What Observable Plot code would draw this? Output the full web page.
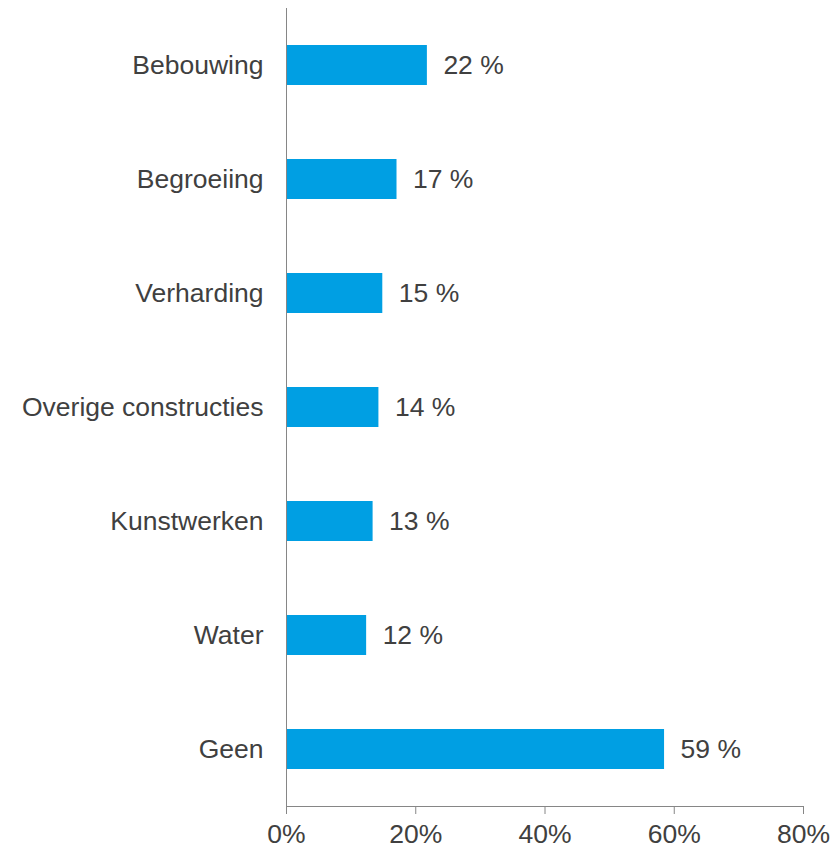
<!DOCTYPE html>
<html>
<head>
<meta charset="utf-8">
<script src="https://cdn.jsdelivr.net/npm/d3@7"></script>
<script src="https://cdn.jsdelivr.net/npm/@observablehq/plot@0.6"></script>
<style>
  html, body { margin: 0; padding: 0; background: #fff; }
  svg { display: block; }
</style>
</head>
<body>
<div id="chart"></div>
<script>
const categories = ["Bebouwing", "Begroeiing", "Verharding", "Overige constructies", "Kunstwerken", "Water", "Geen"];
const values = [21.8, 17.1, 14.9, 14.3, 13.4, 12.4, 58.5];
const valueLabels = ["22 %", "17 %", "15 %", "14 %", "13 %", "12 %", "59 %"];
const xTicks = [0, 20, 40, 60, 80];

const data = categories.map((c, i) => ({category: c, value: values[i], label: valueLabels[i]}));

const textColor = "#404040";
const axisColor = "#868686";
const fs = 26.5;

const chart = Plot.plot({
  width: 836,
  height: 852,
  marginLeft: 286,
  marginRight: 33,
  marginTop: 8,
  marginBottom: 46,
  style: {fontFamily: "'Liberation Sans', Arial, sans-serif", fontSize: fs + "px", color: textColor, background: "#fff"},
  x: {domain: [0, 80], ticks: xTicks},
  y: {domain: categories, paddingInner: 0.65, paddingOuter: 0.32, axis: null},
  marks: [
    Plot.barX(data, {x: "value", y: "category", fill: "#009FE3"}),
    Plot.text(data, {x: "value", y: "category", text: "label", textAnchor: "start", dx: 16, fill: textColor, fontSize: fs}),
    Plot.axisY({tickSize: 0, tickPadding: 23, fontSize: fs, fill: textColor, label: null}),
    Plot.axisX({ticks: xTicks, tickFormat: d => d + "%", tickSize: 8, tickPadding: 10, fontSize: fs, fill: textColor, stroke: axisColor, strokeOpacity: 1, label: null}),
    Plot.frame({anchor: "bottom", stroke: axisColor}),
    Plot.ruleX([0], {stroke: axisColor})
  ]
});

document.getElementById("chart").appendChild(chart);
</script>
</body>
</html>
